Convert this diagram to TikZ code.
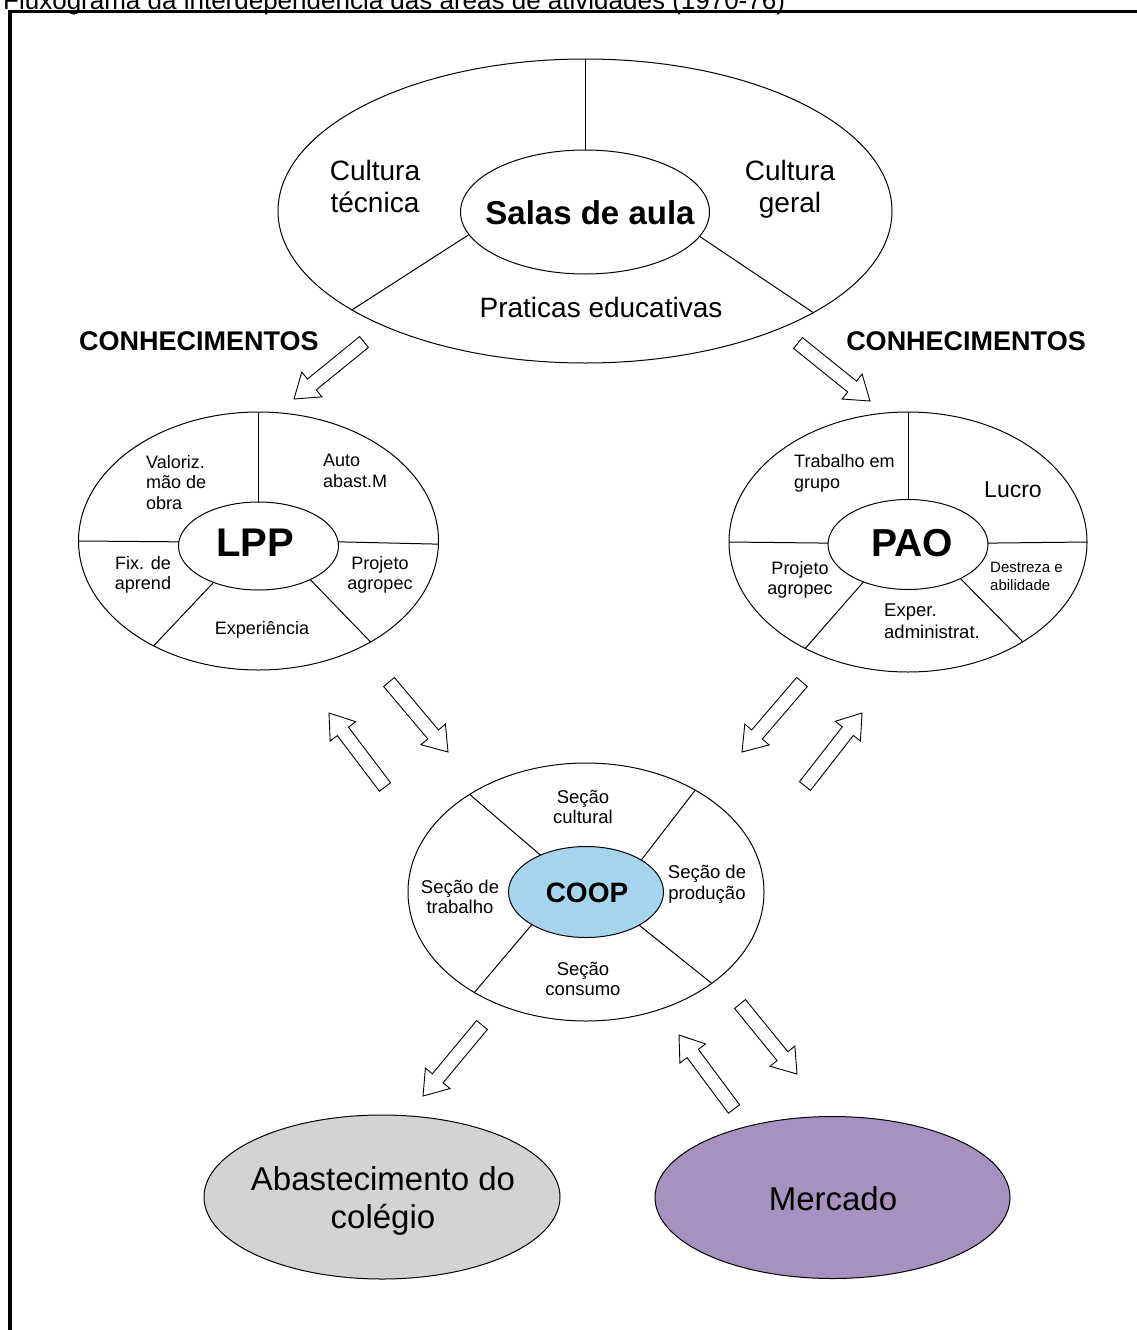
\documentclass[tikz,border=0pt]{standalone}
\usepackage{fontspec}
\setmainfont{Liberation Sans}
\usetikzlibrary{shapes.geometric,calc}
\definecolor{coopblue}{RGB}{166,212,236}
\definecolor{abgray}{RGB}{211,211,211}
\definecolor{mercpurple}{RGB}{165,146,190}
\newcommand\fs[2]{\fontsize{#1}{#2}\selectfont}
\tikzset{
  divline/.style={draw=black, line width=1pt},
  ell/.style={ellipse, draw=black, line width=1pt, inner sep=0pt, outer sep=0pt},
  blockarr/.style={draw=black, line width=0.9pt, fill=white, line join=miter},
  lbl/.style={inner sep=0pt, align=center, font=\fs{18}{20.5}},
  framel/.style={draw=black, line width=3.5pt, line join=miter},
}
% hollow block arrow from tail coordinate #1 to tip coordinate #2
\newcommand\blockarrow[2]{%
  \draw[blockarr] let \p1=(#1), \p2=(#2),
    \n1={atan2(\y2-\y1,\x2-\x1)}, \n2={veclen(\x2-\x1,\y2-\y1)-23} in
    ($(#1)+(\n1-90:7)$) -- ($(#1)+(\n1:\n2)+(\n1-90:7)$) -- ($(#1)+(\n1:\n2)+(\n1-90:16)$)
    -- (#2) -- ($(#1)+(\n1:\n2)+(\n1+90:16)$) -- ($(#1)+(\n1:\n2)+(\n1+90:7)$)
    -- ($(#1)+(\n1+90:7)$) -- cycle;}
\begin{document}
\begin{tikzpicture}[x=1pt,y=1pt]
\fill[white] (0,0) rectangle (1136,-1330);
\useasboundingbox (0,0) rectangle (1136,-1330);

% title and frame
\node[anchor=base west, inner sep=0pt, font=\fs{26}{30}] (title) at (3,-9.5)
  {Fluxograma da interdependência das áreas de atividades (1970-76)};
\coordinate (fr-bl) at (10,-1332);
\coordinate (fr-tl) at (10,-11.5);
\coordinate (fr-tr) at (1138,-11.5);
\draw[framel] (fr-bl) -- (fr-tl) -- (fr-tr);

% Salas de aula
\node[ell, minimum width=614, minimum height=304] (salas) at (585,-211) {};
\node[ell, minimum width=249, minimum height=124] (salasin) at (585,-212) {};
\draw[divline] (salas.90) -- (salasin.90);
\draw[divline] (salas.203.3) -- (salasin.191.4);
\draw[divline] (salas.336.7) -- (salasin.348.6);
\node[lbl, font=\fs{28}{32}] (t-ctec) at (375,-186) {Cultura\\técnica};
\node[lbl, font=\fs{28}{32}] (t-cger) at (790,-189) {Cultura\\geral};
\node[lbl, font=\bfseries\fs{33}{36}] (t-salas) at (590,-213) {Salas de aula};
\node[lbl, font=\fs{28}{32}] (t-prat) at (601,-307) {Praticas educativas};

\node[lbl, font=\bfseries\fs{27}{30}] (t-conh1) at (199,-341) {CONHECIMENTOS};
\node[lbl, font=\bfseries\fs{27}{30}] (t-conh2) at (966,-341) {CONHECIMENTOS};

% LPP
\node[ell, minimum width=360, minimum height=258] (lpp) at (258.5,-541) {};
\node[ell, minimum width=160, minimum height=88] (lppin) at (258.5,-546) {};
\draw[divline] (lpp.90) -- (lppin.90);
\draw[divline] (lpp.180.3) -- (lppin.177);
\draw[divline] (lpp.359.7) -- (lppin.3);
\draw[divline] (lpp.225.5) -- (lppin.219.4);
\draw[divline] (lpp.318) -- (lppin.327.4);
\node[lbl, align=left, anchor=west] (t-valor) at (146,-482.5) {Valoriz.\\mão de\\obra};
\node[lbl, align=left, anchor=west] (t-auto) at (323,-471) {Auto\\abast.M};
\node[lbl, font=\bfseries\fs{40}{44}] (t-lpp) at (255,-543) {LPP};
\node[lbl] (t-fix) at (143,-575) {Fix. de\\aprend};
\node[lbl] (t-proj1) at (380,-575) {Projeto\\agropec};
\node[lbl] (t-exp) at (262,-630) {Experiência};

% PAO
\node[ell, minimum width=358, minimum height=260] (pao) at (908,-542) {};
\node[ell, minimum width=160, minimum height=90] (paoin) at (908,-544.5) {};
\draw[divline] (pao.90) -- (paoin.90);
\draw[divline] (pao.180) -- (paoin.179);
\draw[divline] (pao.0) -- (paoin.1);
\draw[divline] (pao.226.4) -- (paoin.220.9);
\draw[divline] (pao.319) -- (paoin.327.2);
\node[lbl, align=left, anchor=west] (t-trab) at (794,-473.5) {Trabalho em\\grupo};
\node[lbl, font=\fs{23}{26}] (t-lucro) at (1013,-490) {Lucro};
\node[lbl, font=\bfseries\fs{39}{44}] (t-pao) at (912,-543) {PAO};
\node[lbl] (t-proj2) at (800,-580) {Projeto\\agropec};
\node[lbl, align=left, anchor=west, font=\fs{15}{18}] (t-dest) at (990,-576) {Destreza e\\abilidade};
\node[lbl, align=left, anchor=west, font=\fs{18.5}{21.5}] (t-exper) at (884,-621) {Exper.\\administrat.};

% COOP
\node[ell, minimum width=356, minimum height=258] (coop) at (586,-892) {};
\node[ell, fill=coopblue, minimum width=155, minimum height=91] (coopin) at (586,-892) {};
\draw[divline] (coop.140.2) -- (coopin.141.8);
\draw[divline] (coop.43.4) -- (coopin.30.5);
\draw[divline] (coop.222.6) -- (coopin.211.3);
\draw[divline] (coop.324.3) -- (coopin.328.3);
\node[lbl, font=\fs{18.5}{20.5}] (t-scult) at (583,-807) {Seção\\cultural};
\node[lbl, font=\fs{18.5}{20.5}] (t-strab) at (460,-897) {Seção de\\trabalho};
\node[lbl, font=\fs{18.5}{20.5}] (t-sprod) at (707,-884) {Seção de\\produção};
\node[lbl, font=\fs{18.5}{20.5}] (t-scons) at (583,-979) {Seção\\consumo};
\node[lbl, font=\bfseries\fs{28}{32}] (t-coop) at (587,-893) {COOP};

% bottom ellipses
\node[ell, fill=abgray, minimum width=356, minimum height=164] (abast) at (382,-1197) {};
\node[ell, fill=mercpurple, minimum width=355, minimum height=162] (merc) at (832.5,-1197.5) {};
\node[lbl, font=\fs{33}{38}] (t-abast) at (383,-1201) {Abastecimento do\\colégio};
\node[lbl, font=\fs{33}{38}] (t-merc) at (833,-1199) {Mercado};

% hollow arrows
\coordinate (a1s) at (364,-342);  \coordinate (a1e) at (294,-399);
\coordinate (a2s) at (798,-343);  \coordinate (a2e) at (870,-401);
\coordinate (a3s) at (389,-682);  \coordinate (a3e) at (448,-752);
\coordinate (a4s) at (385,-787);  \coordinate (a4e) at (329,-713);
\coordinate (a5s) at (802,-682);  \coordinate (a5e) at (742,-752);
\coordinate (a6s) at (805,-786);  \coordinate (a6e) at (862,-713);
\coordinate (a7s) at (482,-1025); \coordinate (a7e) at (423,-1096);
\coordinate (a8s) at (734,-1109); \coordinate (a8e) at (679,-1035);
\coordinate (a9s) at (740,-1004); \coordinate (a9e) at (797,-1074);
\blockarrow{a1s}{a1e}
\blockarrow{a2s}{a2e}
\blockarrow{a3s}{a3e}
\blockarrow{a4s}{a4e}
\blockarrow{a5s}{a5e}
\blockarrow{a6s}{a6e}
\blockarrow{a7s}{a7e}
\blockarrow{a8s}{a8e}
\blockarrow{a9s}{a9e}
\end{tikzpicture}
\end{document}
